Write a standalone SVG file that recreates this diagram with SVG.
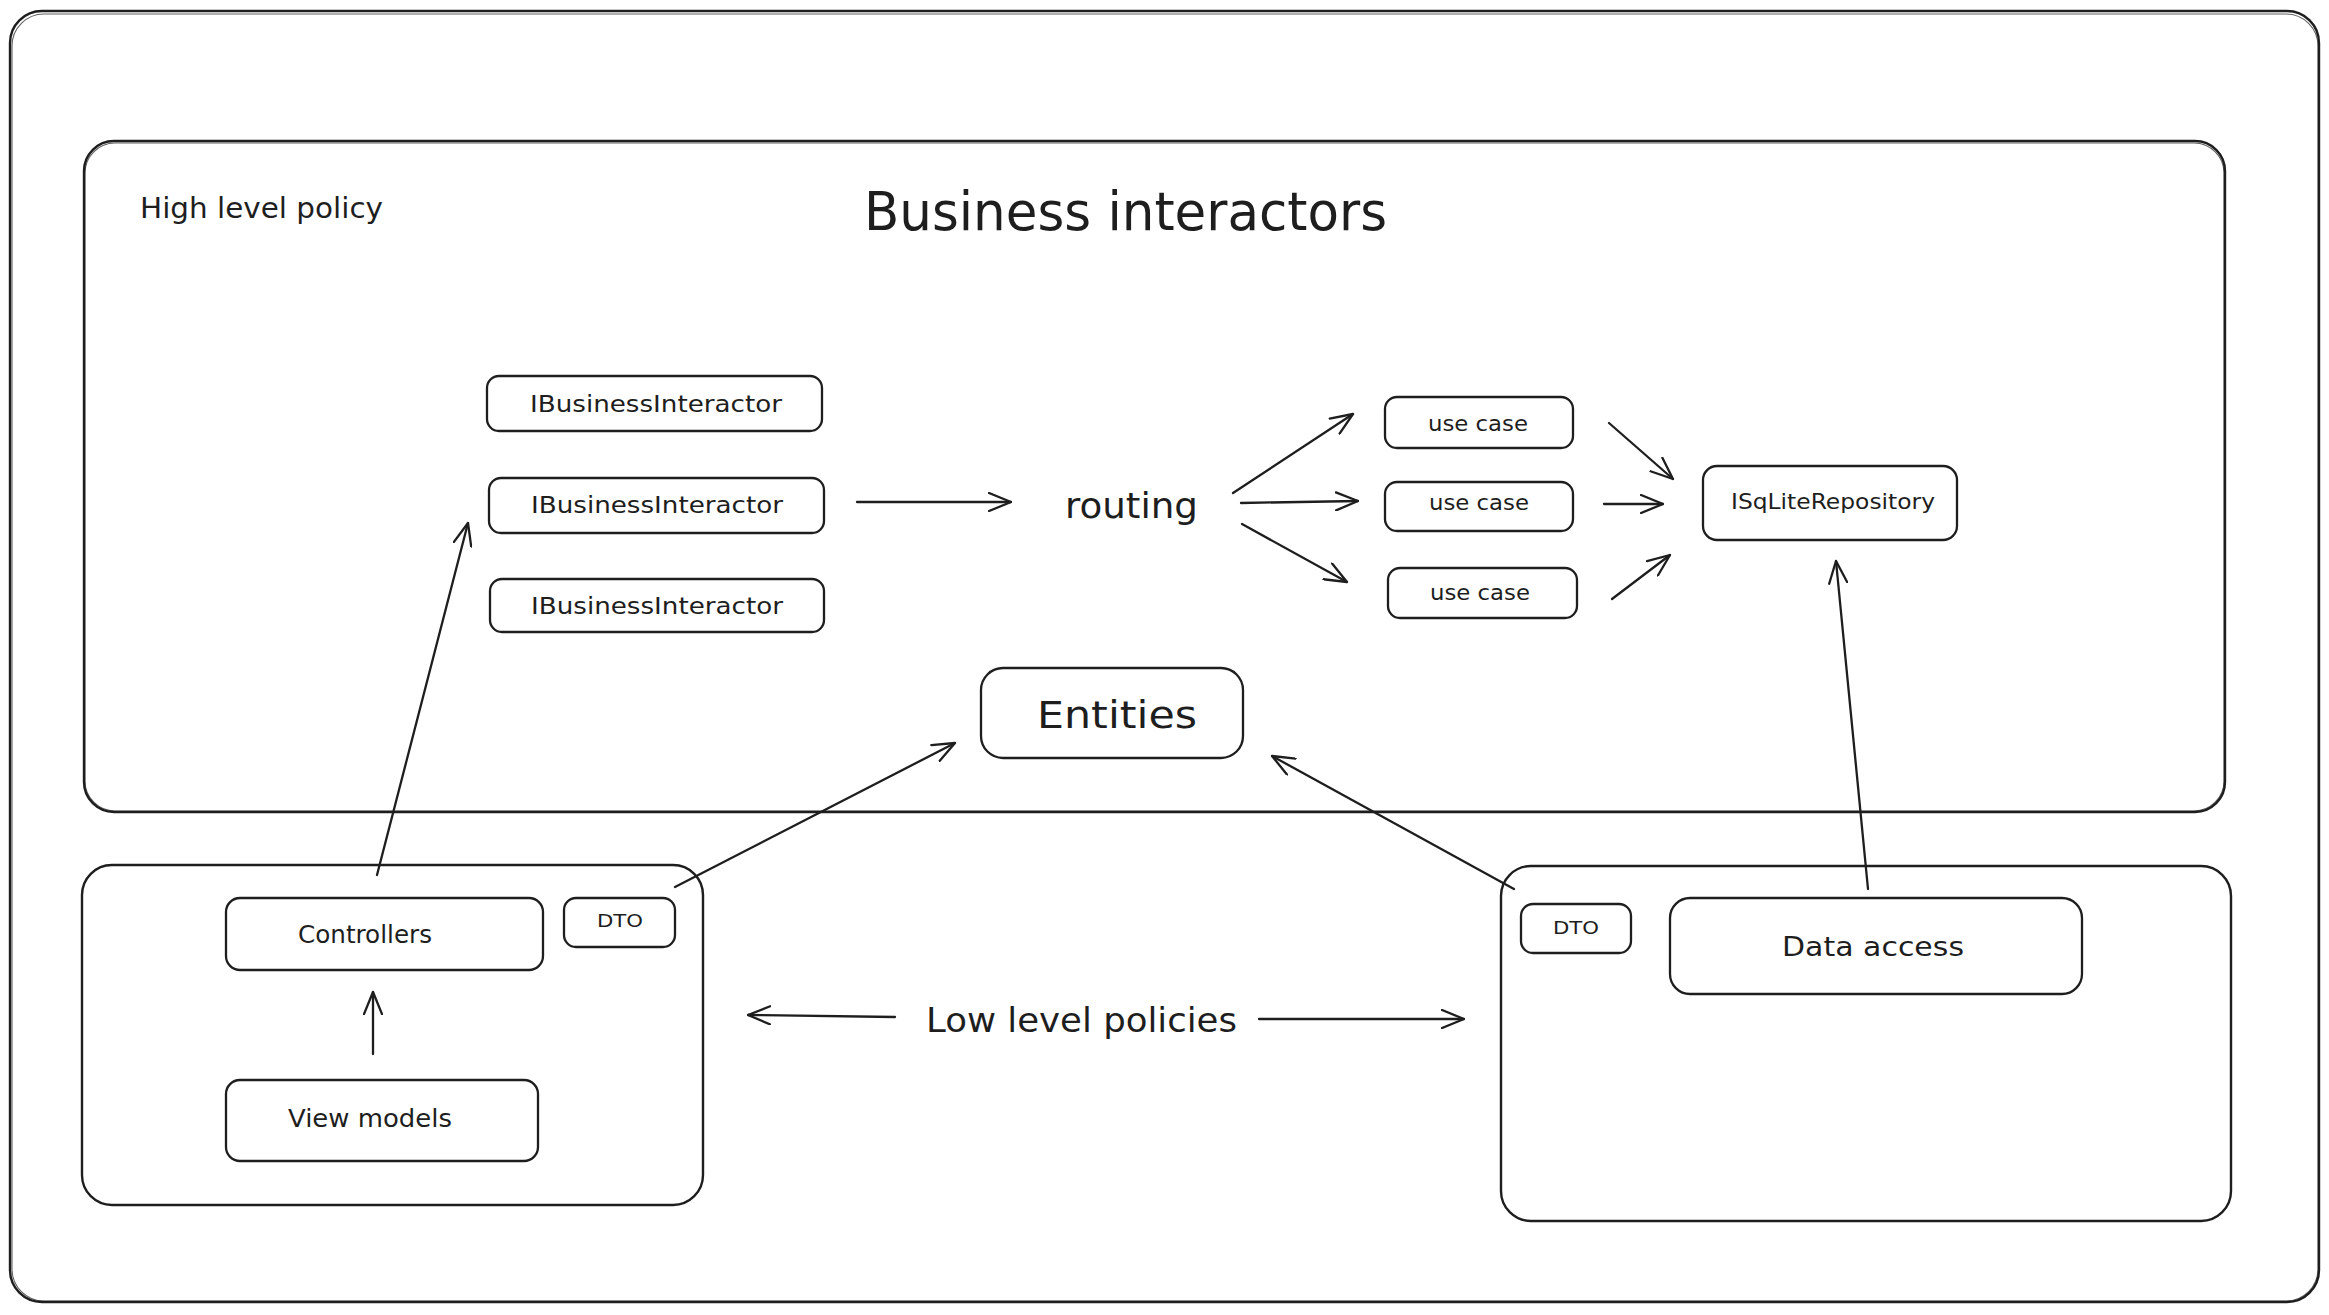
<svg xmlns="http://www.w3.org/2000/svg" width="2329" height="1315" viewBox="0 0 2329 1315">
<style>
  .frame { fill: none; stroke: #1e1e1e; stroke-width: 2.4; stroke-linejoin: round; }
  .frame2 { fill: none; stroke: #1e1e1e; stroke-width: 1.1; opacity: 0.7; }
  .box { fill: #ffffff; stroke: #1e1e1e; stroke-width: 2.3; }
  .t { fill: #1e1e1e; font-family: "DejaVu Sans", "Liberation Sans", sans-serif; }
  .c { text-anchor: middle; }
  .conn { fill: none; stroke: #1e1e1e; stroke-width: 2.3; stroke-linecap: round; }
</style>
<defs>
  <marker id="ah" viewBox="0 0 24 20" refX="23" refY="10" markerWidth="24" markerHeight="20" markerUnits="userSpaceOnUse" orient="auto">
    <path d="M1,1 L23,10 L1,19" fill="none" stroke="#1e1e1e" stroke-width="2.3" stroke-linecap="round" stroke-linejoin="round"/>
  </marker>
</defs>
<rect width="2329" height="1315" fill="#ffffff"/>

<g id="outer-frame">
  <rect class="frame" x="10" y="11" width="2309" height="1291" rx="32"/>
  <rect class="frame2" x="12" y="14" width="2306" height="1287" rx="32"/>
</g>

<g id="high-level-policy">
  <rect class="frame" x="84" y="141" width="2141" height="671" rx="30"/>
  <rect class="frame2" x="85" y="143" width="2139" height="668" rx="30"/>
  <text class="t" x="140" y="218" font-size="28" textLength="243" lengthAdjust="spacingAndGlyphs">High level policy</text>
  <text class="t" x="864" y="230" font-size="54" textLength="523" lengthAdjust="spacingAndGlyphs">Business interactors</text>
</g>

<g id="ibi-1">
  <rect class="box" x="487" y="376" width="335" height="55" rx="12"/>
  <text class="t c" x="656" y="412" font-size="23" textLength="252" lengthAdjust="spacingAndGlyphs">IBusinessInteractor</text>
</g>
<g id="ibi-2">
  <rect class="box" x="489" y="478" width="335" height="55" rx="12"/>
  <text class="t c" x="657" y="513" font-size="23" textLength="252" lengthAdjust="spacingAndGlyphs">IBusinessInteractor</text>
</g>
<g id="ibi-3">
  <rect class="box" x="490" y="579" width="334" height="53" rx="12"/>
  <text class="t c" x="657" y="614" font-size="23" textLength="252" lengthAdjust="spacingAndGlyphs">IBusinessInteractor</text>
</g>

<g id="routing">
  <text class="t" x="1065" y="518" font-size="36" textLength="133" lengthAdjust="spacingAndGlyphs">routing</text>
</g>

<g id="use-case-1">
  <rect class="box" x="1385" y="397" width="188" height="51" rx="12"/>
  <text class="t c" x="1478" y="431" font-size="22" textLength="100" lengthAdjust="spacingAndGlyphs">use case</text>
</g>
<g id="use-case-2">
  <rect class="box" x="1385" y="482" width="188" height="49" rx="12"/>
  <text class="t c" x="1479" y="510" font-size="22" textLength="100" lengthAdjust="spacingAndGlyphs">use case</text>
</g>
<g id="use-case-3">
  <rect class="box" x="1388" y="568" width="189" height="50" rx="12"/>
  <text class="t c" x="1480" y="600" font-size="22" textLength="100" lengthAdjust="spacingAndGlyphs">use case</text>
</g>

<g id="isqlite-repository">
  <rect class="box" x="1703" y="466" width="254" height="74" rx="14"/>
  <text class="t c" x="1833" y="509" font-size="21" textLength="204" lengthAdjust="spacingAndGlyphs">ISqLiteRepository</text>
</g>

<g id="entities">
  <rect class="box" x="981" y="668" width="262" height="90" rx="22"/>
  <text class="t c" x="1117" y="728" font-size="37" textLength="160" lengthAdjust="spacingAndGlyphs">Entities</text>
</g>

<g id="presentation-layer">
  <rect class="frame" x="82" y="865" width="621" height="340" rx="30"/>
</g>
<g id="controllers">
  <rect class="box" x="226" y="898" width="317" height="72" rx="14"/>
  <text class="t c" x="365" y="943" font-size="24" textLength="134" lengthAdjust="spacingAndGlyphs">Controllers</text>
</g>
<g id="dto-left">
  <rect class="box" x="564" y="898" width="111" height="49" rx="12"/>
  <text class="t c" x="620" y="927" font-size="17" textLength="46" lengthAdjust="spacingAndGlyphs">DTO</text>
</g>
<g id="view-models">
  <rect class="box" x="226" y="1080" width="312" height="81" rx="14"/>
  <text class="t c" x="370" y="1127" font-size="25" textLength="164" lengthAdjust="spacingAndGlyphs">View models</text>
</g>

<g id="low-level-policies">
  <text class="t" x="926" y="1032" font-size="34" textLength="311" lengthAdjust="spacingAndGlyphs">Low level policies</text>
</g>

<g id="data-layer">
  <rect class="frame" x="1501" y="866" width="730" height="355" rx="30"/>
</g>
<g id="dto-right">
  <rect class="box" x="1521" y="904" width="110" height="49" rx="12"/>
  <text class="t c" x="1576" y="934" font-size="17" textLength="46" lengthAdjust="spacingAndGlyphs">DTO</text>
</g>
<g id="data-access">
  <rect class="box" x="1670" y="898" width="412" height="96" rx="20"/>
  <text class="t c" x="1873" y="956" font-size="27" textLength="182" lengthAdjust="spacingAndGlyphs">Data access</text>
</g>

<g id="connectors">
  <line class="conn" x1="857" y1="502" x2="1011" y2="502" marker-end="url(#ah)"/>
  <line class="conn" x1="1233" y1="493" x2="1353" y2="414" marker-end="url(#ah)" stroke-width="3"/>
  <line class="conn" x1="1241" y1="503" x2="1358" y2="501" marker-end="url(#ah)"/>
  <line class="conn" x1="1242" y1="524" x2="1347" y2="582" marker-end="url(#ah)" stroke-width="3"/>
  <line class="conn" x1="1609" y1="423" x2="1673" y2="479" marker-end="url(#ah)" stroke-width="3"/>
  <line class="conn" x1="1604" y1="504" x2="1663" y2="504" marker-end="url(#ah)" stroke-width="3"/>
  <line class="conn" x1="1612" y1="599" x2="1670" y2="555" marker-end="url(#ah)"/>
  <line class="conn" x1="1868" y1="889" x2="1836" y2="561" marker-end="url(#ah)"/>
  <line class="conn" x1="377" y1="875" x2="468" y2="523" marker-end="url(#ah)"/>
  <line class="conn" x1="373" y1="1054" x2="373" y2="992" marker-end="url(#ah)"/>
  <line class="conn" x1="675" y1="887" x2="955" y2="743" marker-end="url(#ah)"/>
  <line class="conn" x1="1514" y1="889" x2="1272" y2="756" marker-end="url(#ah)"/>
  <line class="conn" x1="895" y1="1017" x2="748" y2="1015" marker-end="url(#ah)"/>
  <line class="conn" x1="1259" y1="1019" x2="1464" y2="1019" marker-end="url(#ah)"/>
</g>
</svg>
